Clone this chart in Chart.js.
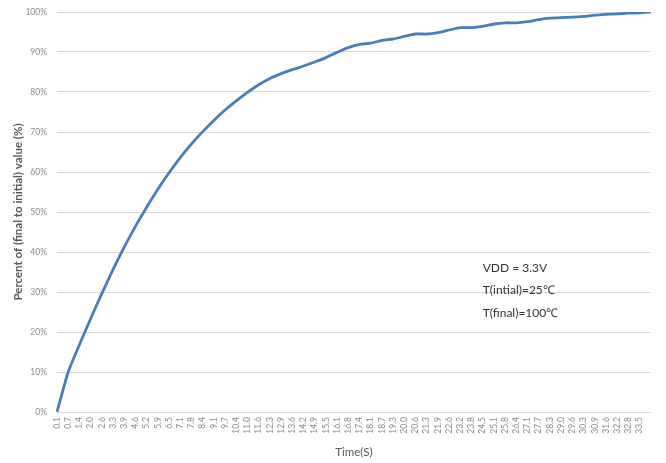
<!DOCTYPE html>
<html>
<head>
<meta charset="utf-8">
<script src="https://cdn.jsdelivr.net/npm/chart.js@4/dist/chart.umd.min.js"></script>
<style>
  html, body { margin: 0; padding: 0; background: #fff; }
  #wrap { width: 666px; height: 463px; }
</style>
</head>
<body>
<div id="wrap"><canvas id="tempChart"></canvas></div>
<script>
// time labels as shown on the axis (s); last sample is unlabelled
var timeLabels = ['0.1','0.7','1.4','2.0','2.6','3.3','3.9','4.6','5.2','5.9','6.5','7.1','7.8','8.4','9.1','9.7',
    '10.4','11.0','11.6','12.3','12.9','13.6','14.2','14.9','15.5','16.1','16.8','17.4','18.1','18.7','19.3',
    '20.0','20.6','21.3','21.9','22.6','23.2','23.8','24.5','25.1','25.8','26.4','27.1','27.7','28.3','29.0',
    '29.6','30.3','30.9','31.6','32.2','32.8','33.5',''];

// percent of (final to initial) value
var percentValues = [0, 10.0, 16.8, 23.3, 29.6, 35.6, 41.2, 46.4, 51.2, 55.7, 59.8, 63.6, 67.0, 70.1, 72.9, 75.5,
    77.8, 79.9, 81.8, 83.4, 84.6, 85.6, 86.5, 87.5, 88.6, 89.9, 91.1, 91.9, 92.2, 92.9, 93.25,
    93.9, 94.5, 94.5, 94.85, 95.5, 96.1, 96.1, 96.4, 97.0, 97.3, 97.3, 97.6, 98.1, 98.45, 98.6,
    98.7, 98.9, 99.2, 99.4, 99.55, 99.7, 99.8, 100];

var yTicks = [0, 10, 20, 30, 40, 50, 60, 70, 80, 90, 100];

// test conditions note
var noteLines = ['VDD = 3.3V', 'T(intial)=25\u2103', 'T(final)=100\u2103'];
var noteAt = { index: 38.0, value: [36, 30.5, 24.8] };

var notePlugin = {
    id: 'notes',
    afterDatasetsDraw: function (chart) {
        var ctx = chart.ctx;
        var xs = chart.scales.x, ys = chart.scales.y;
        ctx.save();
        ctx.font = '12px Lato, "Open Sans", sans-serif';
        ctx.fillStyle = '#333333';
        ctx.textBaseline = 'middle';
        ctx.textAlign = 'left';
        var x = xs.getPixelForValue(noteAt.index);
        noteLines.forEach(function (t, i) {
            ctx.fillText(t, x, ys.getPixelForValue(noteAt.value[i]));
        });
        ctx.restore();
    }
};

var ctx = document.getElementById('tempChart').getContext('2d');
var tempChart = new Chart(ctx, {
    type: 'line',
    data: {
        labels: timeLabels,
        datasets: [{
            data: percentValues,
            borderColor: '#4a7ebb',
            borderWidth: 2.8,
            pointRadius: 0,
            tension: 0.2,
            fill: false
        }]
    },
    options: {
        responsive: true,
        maintainAspectRatio: false,
        animation: false,
        layout: { padding: { top: 12, right: 5, left: 0, bottom: 0 } },
        plugins: {
            legend: { display: false },
            tooltip: { enabled: false }
        },
        scales: {
            x: {
                type: 'category',
                offset: false,
                grid: { display: false, drawTicks: false },
                border: { display: true, color: '#d9d9d9', width: 1 },
                ticks: {
                    autoSkip: false,
                    minRotation: 90,
                    maxRotation: 90,
                    padding: 5,
                    color: '#8c8c8c',
                    font: { family: 'Lato, "Open Sans", sans-serif', size: 8.5 },
                    callback: function (v, i) { return timeLabels[i]; }
                },
                title: {
                    display: true,
                    text: 'Time(S)',
                    color: '#595959',
                    font: { family: 'Lato, "Open Sans", sans-serif', size: 11.5 },
                    padding: { top: 2, bottom: 4 }
                },
                afterFit: function (scale) { scale.height = 51; }
            },
            y: {
                min: 0,
                max: 100,
                afterBuildTicks: function (scale) {
                    scale.ticks = yTicks.map(function (v) { return { value: v }; });
                },
                grid: { color: '#d9d9d9', lineWidth: 1, drawTicks: false },
                border: { display: false },
                ticks: {
                    padding: 10,
                    color: '#8c8c8c',
                    font: { family: 'Lato, "Open Sans", sans-serif', size: 8.5 },
                    callback: function (v) { return v + '%'; }
                },
                title: {
                    display: true,
                    text: 'Percent of (final to initial) value (%)',
                    color: '#595959',
                    font: { family: 'Lato, "Open Sans", sans-serif', size: 11.5, weight: 'bold' },
                    padding: { top: 11, bottom: 2 }
                },
                afterFit: function (scale) {
                    scale.width = 57;
                    scale.paddingTop = 6;
                    scale.paddingBottom = 6;
                }
            }
        }
    },
    plugins: [notePlugin]
});
</script>
</body>
</html>
